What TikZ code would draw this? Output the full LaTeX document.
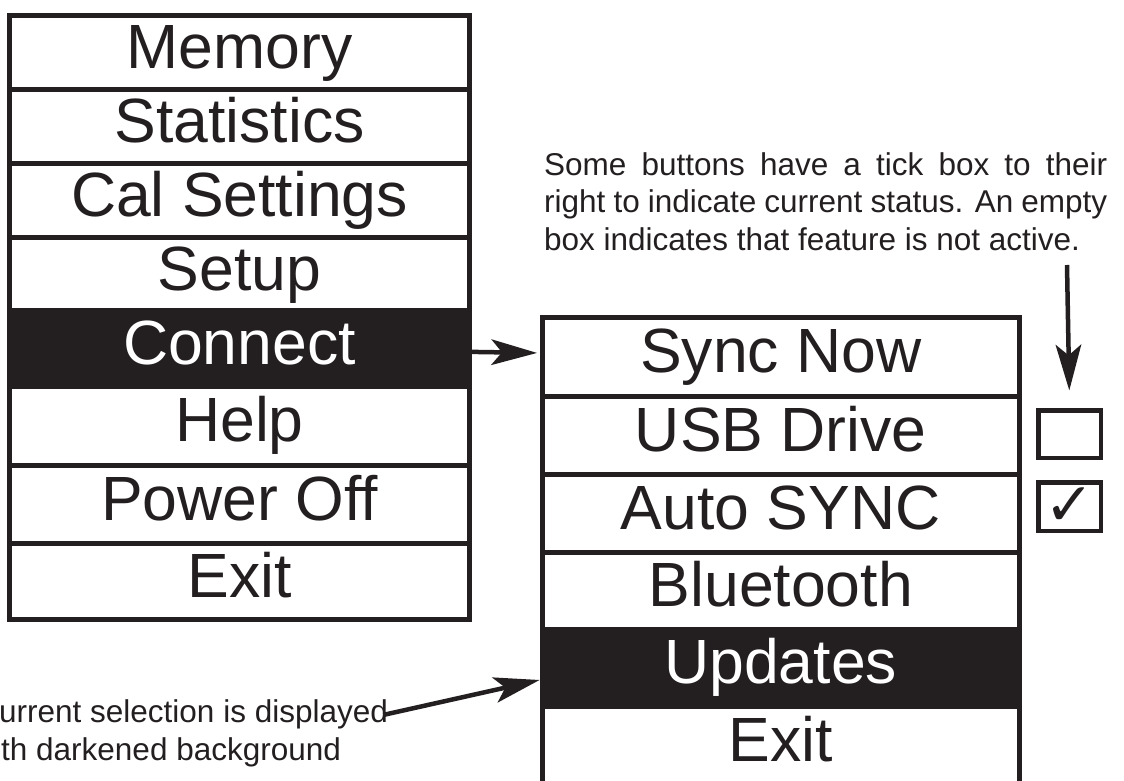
\documentclass[tikz,border=0pt]{standalone}
\usepackage{fontspec}
\setmainfont{Liberation Sans}
\newfontfamily\symfont{DejaVu Sans}
\usetikzlibrary{arrows.meta}
\definecolor{ink}{HTML}{231F20}

\begin{document}
\begin{tikzpicture}[x=1pt, y=-1pt,
    menuitem/.style={draw=ink, line width=5pt, text=ink, minimum width=#1, inner sep=0pt,
        text height=46pt, text depth=14pt, font=\fontsize{62.5}{70}\selectfont},
    menusel/.style={menuitem=#1, fill=ink, text=white},
    tickbox/.style={draw=ink, line width=4.5pt, minimum width=62.6pt, inner sep=0pt},
    note/.style={text=ink, inner sep=0pt},
    pointer/.style={draw=ink, line width=4.5pt, -{Stealth[length=46pt, width=26pt, inset=11pt, line width=0pt]}}]
        \useasboundingbox (0,0) rectangle (1124,781);

        % main menu
        \node[menuitem=460pt, minimum height=74pt] (m1) at (239.5,52.5) {Memory};
        \node[menuitem=460pt, minimum height=74pt] (m2) at (239.5,126.5) {Statistics};
        \node[menuitem=460pt, minimum height=74pt] (m3) at (239.5,200.5) {Cal Settings};
        \node[menuitem=460pt, minimum height=73pt] (m4) at (239.5,274) {Setup};
        \node[menusel=460pt, minimum height=75.5pt] (m5) at (239.5,348.25) {Connect};
        \node[menuitem=460pt, minimum height=79pt] (m6) at (239.5,425.5) {Help};
        \node[menuitem=460pt, minimum height=78pt] (m7) at (239.5,504) {Power Off};
        \node[menuitem=460pt, minimum height=76.5pt] (m8) at (239.5,581.25) {Exit};

        % connect submenu
        \node[menuitem=477.5pt, minimum height=78.5pt] (s1) at (780.75,356.75) {Sync Now};
        \node[menuitem=477.5pt, minimum height=78.5pt] (s2) at (780.75,435.25) {USB Drive};
        \node[menuitem=477.5pt, minimum height=77.5pt] (s3) at (780.75,513.25) {Auto SYNC};
        \node[menuitem=477.5pt, minimum height=77.5pt] (s4) at (780.75,590.75) {Bluetooth};
        \node[menusel=477.5pt, minimum height=76.5pt] (s5) at (780.75,667.75) {Updates};
        \node[menuitem=477.5pt, minimum height=78pt] (s6) at (780.75,745) {Exit};

        % tick boxes
        \node[tickbox, minimum height=47.2pt] (c1) at (1069.6,434.2) {};
        \node[tickbox, minimum height=48.7pt, text=ink, font=\symfont\fontsize{60}{60}\selectfont] (c2) at (1069.6,506.7) {✓};

        % notes
        \node[note, anchor=north west, text width=563pt, align=justify, font=\fontsize{31.5}{37.5}\selectfont] (ann) at (544,152)
            {Some buttons have a tick box to their\linebreak right to indicate current status. An empty\linebreak box indicates that feature is not active.};
        \node[note, anchor=base west, font=\fontsize{31.5}{38}\selectfont] (sel1) at (-1,722) {urrent selection is displayed};
        \node[note, anchor=base west, font=\fontsize{31.5}{38}\selectfont] (sel2) at (1,760) {th darkened background};

        \coordinate (tickfrom) at (1067,265);

        \draw[pointer, shorten >=2.5pt] (m5) -- (s1);
        \draw[pointer, shorten <=-5pt] (sel1.east) -- ([yshift=-12.25pt]s5.west);
        \draw[pointer, shorten >=18pt] (tickfrom) -- (c1.north);
    \end{tikzpicture}
\end{document}
